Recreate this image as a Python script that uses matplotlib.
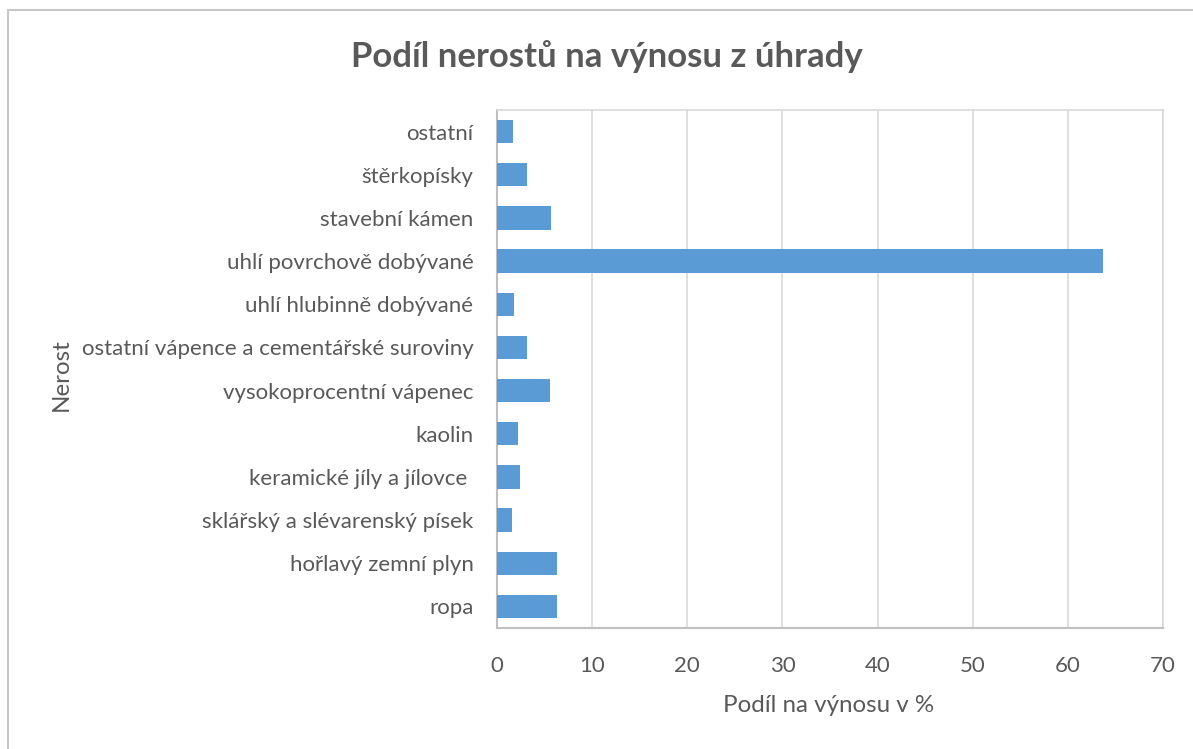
import matplotlib
matplotlib.use("Agg")
import matplotlib.pyplot as plt
from matplotlib.patches import Rectangle

plt.rcParams['font.family'] = ['Lato', 'DejaVu Sans']

categories = [
    "ropa",
    "hořlavý zemní plyn",
    "sklářský a slévarenský písek",
    "keramické jíly a jílovce ",
    "kaolin",
    "vysokoprocentní vápenec",
    "ostatní vápence a cementářské suroviny",
    "uhlí hlubinně dobývané",
    "uhlí povrchově dobývané",
    "stavební kámen",
    "štěrkopísky",
    "ostatní",
]
values = [6.27, 6.27, 1.58, 2.45, 2.17, 5.6, 3.12, 1.82, 63.7, 5.67, 3.12, 1.71]
x_ticks = [0, 10, 20, 30, 40, 50, 60, 70]

title = "Podíl nerostů na výnosu z úhrady"
xlabel = "Podíl na výnosu v %"
ylabel = "Nerost"

W, H = 1193, 749
fig = plt.figure(figsize=(W / 100, H / 100), dpi=100)
fig.patch.set_facecolor("white")

# outer chart border (only top/left visible in reference)
fig.add_artist(Rectangle((8 / W, -0.1), 1.2, (H - 10) / H + 0.1,
                         transform=fig.transFigure, fill=False,
                         edgecolor="#c8c8c8", linewidth=1.5))

left, right, top, bottom = 497, 1163, 110, 628
ax = fig.add_axes([left / W, 1 - bottom / H, (right - left) / W, (bottom - top) / H])

bar_color = "#5b9bd5"
ypos = list(range(len(categories)))
ax.barh(ypos, values, height=0.54, color=bar_color, zorder=3)

ax.set_xlim(0, 70)
ax.set_ylim(-0.5, len(categories) - 0.5)
ax.set_xticks(x_ticks)
ax.set_xticklabels([str(t) for t in x_ticks])
ax.set_yticks(ypos)
ax.set_yticklabels(categories)

text_color = "#595959"
ax.tick_params(axis="both", length=0, labelsize=16, colors=text_color)
ax.tick_params(axis="x", pad=20)
ax.tick_params(axis="y", pad=17)

ax.xaxis.grid(True, color="#d9d9d9", linewidth=1.2, zorder=0)
ax.set_axisbelow(True)
for s in ["top", "right"]:
    ax.spines[s].set_color("#d9d9d9")
    ax.spines[s].set_linewidth(1.2)
ax.spines["left"].set_color("#bfbfbf")
ax.spines["left"].set_linewidth(1.5)
ax.spines["bottom"].set_color("#bfbfbf")
ax.spines["bottom"].set_linewidth(1.5)

fig.text(607 / W, 1 - 57 / H, title, ha="center", va="center",
         fontsize=25, fontweight="bold", color=text_color)
fig.text(829 / W, 1 - 706 / H, xlabel, ha="center", va="center",
         fontsize=17.4, color=text_color)
fig.text(61 / W, 1 - 375 / H, ylabel, ha="center", va="center",
         fontsize=17.4, color=text_color, rotation=90)

fig.savefig("out.png", dpi=100, facecolor="white")
